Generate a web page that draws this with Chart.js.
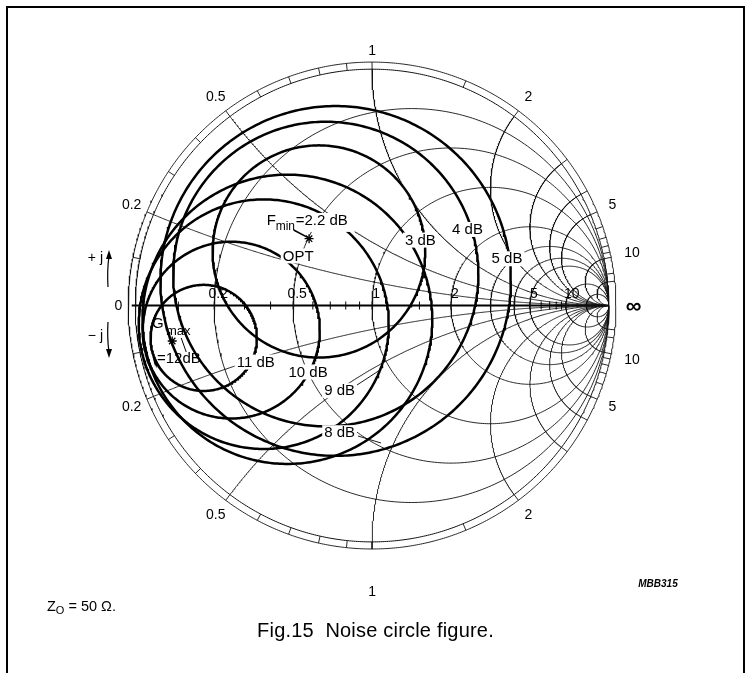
<!DOCTYPE html>
<html>
<head>
<meta charset="utf-8">
<script src="https://cdn.jsdelivr.net/npm/chart.js@4.4.1/dist/chart.umd.min.js"></script>
<style>
  html, body { margin: 0; padding: 0; background: #fff; }
  #wrap { position: relative; width: 751px; height: 673px; overflow: hidden; background: #fff; }
  #smith { position: absolute; left: 0; top: 0; }
  .rule { position: absolute; background: #000; }
  .note { position: absolute; font-family: "Liberation Sans", Arial, sans-serif; color: #000; white-space: nowrap; }
  #z0 { left: 47px; top: 598px; font-size: 14.5px; }
  #z0 sub { font-size: 11px; vertical-align: -3px; }
  #caption { left: 0; width: 751px; text-align: center; top: 619px; font-size: 20px; letter-spacing: 0.2px; }
</style>
</head>
<body>
<div id="wrap">
  <canvas id="smith" width="751" height="673"></canvas>
  <div class="rule" style="left:6px;top:6px;width:739px;height:2px;"></div>
  <div class="rule" style="left:6px;top:6px;width:2px;height:667px;"></div>
  <div class="rule" style="left:743px;top:6px;width:2px;height:667px;"></div>
  <div class="note" id="z0">Z<sub>O</sub> = 50 Ω.</div>
  <div class="note" id="caption">Fig.15&nbsp; Noise circle figure.</div>
</div>
<script>
// ---------------- chart values ----------------
// Smith chart grid (normalised impedance z = r + jx, Z0 = 50 ohm)
const resistanceCircles = [0.2, 0.5, 1, 2, 3, 4, 5, 10, 20];
const reactanceArcs = [0.2, 0.5, 1, 2, 3, 4, 5, 10, 20];
const axisTickValues = [0.1, 0.2, 0.3, 0.4, 0.5, 0.6, 0.7, 0.8, 0.9, 1, 1.5, 2, 3, 4, 5, 6, 7, 8, 9, 10];
const rimTickValues = [0.1, 0.2, 0.3, 0.4, 0.5, 0.6, 0.7, 0.8, 0.9, 1, 1.5, 2, 3, 4, 5, 6, 7, 8, 9, 10, 15, 20];
const axisLabels = ['0.2', '0.5', '1', '2', '5', '10'];
const rimLabels = ['0.2', '0.5', '1', '2', '5', '10'];

// noise circles around the optimum source reflection (Fmin = 2.2 dB)
const noiseLabels = ['3 dB', '4 dB', '5 dB'];
const noiseCentreRe = [-0.2245, -0.1954, -0.1538];
const noiseCentreIm = [0.2287, 0.1331, 0.1040];
const noiseRadius = [0.449, 0.6445, 0.740];

// gain circles around the maximum gain point (Gmax = 12 dB)
const gainLabels = ['11 dB', '10 dB', '9 dB', '8 dB'];
const gainCentreRe = [-0.711, -0.5946, -0.4574, -0.3576];
const gainCentreIm = [-0.137, -0.1040, -0.0790, -0.0582];
const gainRadius = [0.2245, 0.374, 0.528, 0.612];

const optimumSource = [-0.266, 0.283];
const maximumGainPoint = [-0.844, -0.150];

// ---------------- geometry helpers ----------------
function circlePoints(cx, cy, r, n) {
  const pts = [];
  for (let i = 0; i <= n; i++) {
    const t = 2 * Math.PI * i / n;
    pts.push({ x: cx + r * Math.cos(t), y: cy + r * Math.sin(t) });
  }
  return pts;
}
function gammaOf(r, x) {
  const d = (r + 1) * (r + 1) + x * x;
  return { x: (r * r + x * x - 1) / d, y: 2 * x / d };
}
function reactancePoints(x) {
  const pts = [];
  const n = 500;
  for (let i = 0; i < n; i++) {
    const r = Math.tan((Math.PI / 2) * i / n);
    pts.push(gammaOf(r, x));
  }
  pts.push({ x: 1, y: 0 });
  return pts;
}
function rimAngle(x) { return Math.PI - 2 * Math.atan(x); }
function curve(data, width) {
  return { data, showLine: true, borderColor: '#111', borderWidth: width, pointRadius: 0, fill: false, tension: 0 };
}

const RIM_OUT = 1.03;
const datasets = [];

// grid
resistanceCircles.forEach(r => datasets.push(curve(circlePoints(r / (1 + r), 0, 1 / (1 + r), 360), 0.9)));
reactanceArcs.forEach(x => {
  datasets.push(curve(reactancePoints(x), 0.9));
  datasets.push(curve(reactancePoints(-x), 0.9));
});
// rim: unit circle, outer scale circle and scale ticks
datasets.push(curve(circlePoints(0, 0, 1, 720), 1));
datasets.push(curve(circlePoints(0, 0, RIM_OUT, 720), 0.9));
rimTickValues.forEach(x => {
  [1, -1].forEach(s => {
    const a = rimAngle(x);
    datasets.push(curve([
      { x: Math.cos(a), y: s * Math.sin(a) },
      { x: RIM_OUT * Math.cos(a), y: s * RIM_OUT * Math.sin(a) }
    ], 0.9));
  });
});

// noise and gain circles
const thick = c => Object.assign(c, { borderColor: '#000' });
noiseLabels.forEach((_, i) => datasets.push(thick(curve(circlePoints(noiseCentreRe[i], noiseCentreIm[i], noiseRadius[i], 360), 2.5))));
gainLabels.forEach((_, i) => datasets.push(thick(curve(circlePoints(gainCentreRe[i], gainCentreIm[i], gainRadius[i], 360), 2.5))));

// real axis with its ticks
datasets.push(thick(curve([{ x: -1.015, y: 0 }, { x: 1, y: 0 }], 2)));
datasets.push({
  data: axisTickValues.map(r => ({ x: (r - 1) / (r + 1), y: 0 })),
  showLine: false, pointStyle: 'line', rotation: 90, pointRadius: 4, borderColor: '#000', borderWidth: 1
});
// optimum / maximum markers
datasets.push({
  data: [{ x: optimumSource[0], y: optimumSource[1] }, { x: maximumGainPoint[0], y: maximumGainPoint[1] }],
  showLine: false, pointStyle: 'star', pointRadius: 4.5, borderColor: '#000', borderWidth: 1.3
});

// ---------------- text ----------------
const FONT = '"Liberation Sans", Arial, sans-serif';
const textPlugin = {
  id: 'smithText',
  afterDatasetsDraw(chart) {
    const ctx = chart.ctx;
    const sx = chart.scales.x, sy = chart.scales.y;
    const P = (gx, gy) => [sx.getPixelForValue(gx), sy.getPixelForValue(gy)];
    ctx.save();
    ctx.fillStyle = '#000';
    ctx.strokeStyle = '#000';
    ctx.textBaseline = 'middle';
    ctx.textAlign = 'center';
    ctx.font = '14px ' + FONT;

    // rim labels
    rimLabels.forEach(t => {
      const x = Number(t);
      const a = rimAngle(x);
      const rho = x === 1 ? 1.075 : (x === 10 ? 1.12 : 1.1);
      const [tx, ty] = P(rho * Math.cos(a), rho * Math.sin(a));
      ctx.fillText(t, tx, ty);
      const [bx, by] = P(rho * Math.cos(a), -rho * Math.sin(a));
      ctx.fillText(t, bx, x === 1 ? by + 33 : by + 2);
    });
    let [px, py] = P(-1.075, 0);
    ctx.fillText('0', px + 1, py + 1);
    [px, py] = P(1.1, 0);
    ctx.font = 'bold 22px ' + FONT;
    ctx.fillText('∞', px + 1, py + 1);
    ctx.font = '14px ' + FONT;

    // axis labels
    axisLabels.forEach(t => {
      const r = Number(t);
      const [ax, ay] = P((r - 1) / (r + 1), 0);
      ctx.fillText(t, ax + (r >= 10 ? 6 : 4), ay - 11);
    });

    // +j / -j
    ctx.textAlign = 'right';
    ctx.fillText('+ j', 103, 258);
    ctx.fillText('− j', 103, 336);
    ctx.textAlign = 'center';
    ctx.lineWidth = 1.2;
    ctx.beginPath();
    ctx.moveTo(108, 287); ctx.quadraticCurveTo(107, 270, 109, 256);
    ctx.moveTo(108, 322); ctx.quadraticCurveTo(107, 338, 109, 352);
    ctx.stroke();
    ctx.beginPath();
    ctx.moveTo(109, 250); ctx.lineTo(106, 259); ctx.lineTo(112, 259); ctx.closePath();
    ctx.moveTo(109, 358); ctx.lineTo(106, 349); ctx.lineTo(112, 349); ctx.closePath();
    ctx.fill();

    // circle labels with knock-out backgrounds
    ctx.font = '15px ' + FONT;
    function boxed(text, gx, gy) {
      const [lx, ly] = P(gx, gy);
      const w = ctx.measureText(text).width;
      ctx.fillStyle = '#fff';
      ctx.fillRect(lx - w / 2 - 2, ly - 7, w + 4, 15);
      ctx.fillStyle = '#000';
      ctx.fillText(text, lx, ly + 1);
    }
    const noisePos = [[0.204, 0.279], [0.403, 0.324], [0.570, 0.200]];
    noiseLabels.forEach((t, i) => boxed(t, noisePos[i][0], noisePos[i][1]));
    const gainPos = [[-0.491, -0.237], [-0.270, -0.279], [-0.137, -0.358], [-0.137, -0.536]];
    gainLabels.forEach((t, i) => boxed(t, gainPos[i][0], gainPos[i][1]));
    boxed('OPT', -0.312, 0.212);

    // leaders for the 9 dB and 8 dB labels
    ctx.lineWidth = 0.9;
    ctx.beginPath();
    ctx.moveTo(357, 385); ctx.lineTo(380, 370);
    ctx.moveTo(358, 436); ctx.lineTo(381, 443);
    ctx.stroke();

    // Fmin label
    ctx.textAlign = 'left';
    const [fx, fy] = P(-0.445, 0.358);
    ctx.fillStyle = '#fff';
    ctx.fillRect(fx - 2, fy - 8, 90, 19);
    ctx.fillStyle = '#000';
    ctx.font = '15px ' + FONT;
    ctx.fillText('F', fx, fy);
    ctx.font = '12px ' + FONT;
    ctx.fillText('min', fx + 9, fy + 6);
    ctx.font = '15px ' + FONT;
    ctx.fillText('=2.2 dB', fx + 29, fy);
    // leader to optimum point
    const [ox, oy] = P(optimumSource[0], optimumSource[1]);
    ctx.lineWidth = 1.6;
    ctx.beginPath(); ctx.moveTo(fx + 27, fy + 9); ctx.lineTo(ox - 1, oy - 1); ctx.stroke();

    // Gmax label
    ctx.font = '15px ' + FONT;
    ctx.fillText('G', 152, 324);
    ctx.font = '13px ' + FONT;
    ctx.fillText('max', 166, 331);
    ctx.font = '15px ' + FONT;
    ctx.fillText('=12dB', 157, 359);
    const [mx, my] = P(maximumGainPoint[0], maximumGainPoint[1]);
    ctx.lineWidth = 1;
    ctx.beginPath(); ctx.moveTo(mx + 9, my - 3); ctx.lineTo(mx + 14, my + 11); ctx.stroke();

    // drawing code
    ctx.font = 'italic bold 10px ' + FONT;
    ctx.textAlign = 'center';
    ctx.fillText('MBB315', 658, 584);
    ctx.restore();
  }
};

const CX = 372, CY = 305, R = 240.5;
new Chart(document.getElementById('smith'), {
  type: 'scatter',
  data: { datasets },
  options: {
    animation: false,
    responsive: false,
    maintainAspectRatio: false,
    layout: { padding: 0 },
    plugins: { legend: { display: false }, tooltip: { enabled: false } },
    scales: {
      x: { type: 'linear', display: false, min: -CX / R, max: (751 - CX) / R },
      y: { type: 'linear', display: false, min: -(673 - CY) / R, max: CY / R }
    }
  },
  plugins: [textPlugin]
});
</script>
</body>
</html>
